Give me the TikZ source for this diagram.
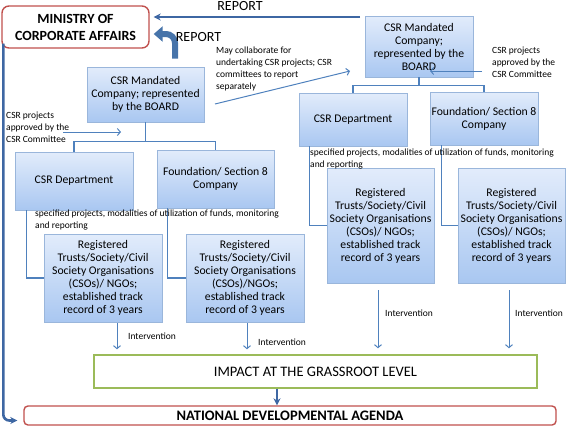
\documentclass[tikz,border=0pt]{standalone}
\usepackage{fontspec}
\setmainfont{Carlito}
\usepackage{xcolor}
\usepackage{tikz}
\usetikzlibrary{calc, arrows.meta, positioning}

\definecolor{linkblue}{HTML}{4F81BD}
\definecolor{darkblue}{HTML}{3E67A3}
\definecolor{boxtop}{HTML}{E2ECFB}
\definecolor{boxbot}{HTML}{A9C7F1}
\definecolor{boxline}{HTML}{9AB6DB}
\definecolor{agendared}{HTML}{C0504D}
\definecolor{impactgreen}{HTML}{9BBB59}

\tikzset{
    orgbox/.style={draw=boxline, line width=0.8pt, top color=boxtop, bottom color=boxbot,
        align=center, inner sep=0pt, font=\fontsize{11.7}{13}\selectfont},
    ngobox/.style={orgbox, minimum width=118pt, minimum height=88pt},
    note/.style={align=left, anchor=north west, inner sep=0pt, font=\fontsize{9.5}{12}\selectfont},
    conn/.style={draw=linkblue, line width=1.4pt},
    flow/.style={draw=linkblue, line width=1pt, -{Straight Barb[length=3pt,width=7pt]}},
    bigarr/.style={draw=darkblue, line width=2.6pt, -{Stealth[length=7pt,width=7pt]}},
    blockarr/.style={draw=linkblue!90!black, line width=6pt, -{Triangle[length=9pt,width=15pt]}}
}

\begin{document}
\begin{tikzpicture}[x=1pt, y=-1pt]
    % Khung hình theo kích thước ảnh gốc
    \useasboundingbox (0,0) rectangle (567,426);

    % Bộ và chương trình quốc gia
    \node[draw=agendared, line width=1.4pt, rounded corners=7pt, minimum width=147pt, minimum height=42pt,
        align=center, inner sep=0pt, font=\fontsize{14}{17}\selectfont\bfseries]
        (ministry) at (75.5,27) {MINISTRY OF\\CORPORATE AFFAIRS};
    \node[draw=agendared, line width=1.4pt, rounded corners=4pt, minimum width=532pt, minimum height=19pt,
        inner sep=0pt, font=\fontsize{14.5}{17}\selectfont\bfseries]
        (national) at (290,415.5) {NATIONAL DEVELOPMENTAL AGENDA};
    \node[draw=impactgreen, line width=1.4pt, minimum width=443pt, minimum height=33pt,
        inner sep=0pt, font=\fontsize{14.5}{17}\selectfont]
        (impact) at (315.5,371.5) {IMPACT AT THE GRASSROOT LEVEL};

    % Nhánh bên trái
    \node[orgbox, minimum width=117pt, minimum height=55pt] (lmand) at (145.5,94.5)
        {CSR Mandated\\Company; represented\\by the BOARD};
    \node[orgbox, minimum width=118pt, minimum height=58pt] (ldept) at (74,181) {CSR Department};
    \node[orgbox, minimum width=117pt, minimum height=58pt] (lfound) at (215.5,179)
        {Foundation/ Section 8\\Company};
    \node[ngobox] (lreg1) at (103,278)
        {Registered\\Trusts/Society/Civil\\Society Organisations\\(CSOs)/ NGOs;\\established track\\record of 3 years};
    \node[ngobox] (lreg2) at (245,278)
        {Registered\\Trusts/Society/Civil\\Society Organisations\\(CSOs)/NGOs;\\established track\\record of 3 years};

    % Nhánh bên phải
    \node[orgbox, minimum width=108pt, minimum height=61pt] (rmand) at (419,46.5)
        {CSR Mandated\\Company;\\represented by the\\BOARD};
    \node[orgbox, minimum width=108pt, minimum height=53pt] (rdept) at (353,119.5) {CSR Department};
    \node[orgbox, minimum width=108pt, minimum height=53pt] (rfound) at (484,118.5)
        {Foundation/ Section 8\\Company};
    \node[ngobox, minimum width=107pt, minimum height=115pt] (rreg1) at (380.5,225.5)
        {Registered\\Trusts/Society/Civil\\Society Organisations\\(CSOs)/ NGOs;\\established track\\record of 3 years};
    \node[ngobox, minimum width=107pt, minimum height=115pt] (rreg2) at (511.5,225.5)
        {Registered\\Trusts/Society/Civil\\Society Organisations\\(CSOs)/ NGOs;\\established track\\record of 3 years};

    % Đường nối dạng cây
    \draw[conn] (lmand.south) -- ++(0,19) -| (ldept.north);
    \draw[conn] (lmand.south) -- ++(0,19) -| (lfound.north);
    \draw[conn] (rmand.south) -- ++(0,8) -| (rdept.north);
    \draw[conn] (rmand.south) -- ++(0,8) -| (rfound.north);
    \draw[conn] ([xshift=12pt]ldept.south west) |- (lreg1.west);
    \draw[conn] ([xshift=11pt]lfound.south west) |- (lreg2.west);
    \draw[conn] ([xshift=11pt]rdept.south west) |- (rreg1.west);
    \draw[conn] ([xshift=12pt]rfound.south west) |- (rreg2.west);

    % Ghi chú
    \node[note] (lspec) at (35,210) {specified projects, modalities of utilization of funds, monitoring\\and reporting};
    \node[note] (rspec) at (310,149) {specified projects, modalities of utilization of funds, monitoring\\and reporting};
    \node[note] (lcomm) at (6,112) {CSR projects\\approved by the\\CSR Committee};
    \node[note] (rcomm) at (492,47) {CSR projects\\approved by the\\CSR Committee};
    \node[note] (collab) at (216,47) {May collaborate for\\undertaking CSR projects; CSR\\committees to report\\separately};

    % Mũi tên của ghi chú
    \coordinate (lcommend) at (121,132);
    \coordinate (rcommend) at (430,71);
    \coordinate (collabstart) at (215,104);
    \coordinate (collabend) at (350,71);
    \draw[flow] (lcomm.east |- lcommend) ++(-6,0) -- (lcommend);
    \draw[flow] ([xshift=-10pt]rcomm.west |- rcommend) -- (rcommend);
    \draw[flow] (collabstart) -- (collabend);

    % Báo cáo lên Bộ
    \coordinate (rtop) at (360,17);
    \draw[bigarr] (rtop) -- ($(ministry.east |- rtop)+(4,0)$);
    \node[font=\fontsize{14}{17}\selectfont, inner sep=0pt] (report1) at (240,6) {REPORT};
    \draw[blockarr, rounded corners=9pt] ($(lmand.north)+(29.5,-8)$) |- ($(ministry.east)+(4,7)$);
    \node[font=\fontsize{14}{17}\selectfont, inner sep=0pt] (report2) at (198.5,37) {REPORT};

    % Can thiệp đến cấp cơ sở
    \draw[flow, shorten <=1pt, shorten >=5pt] ($(lreg1.south)+(14,0)$) -- ($(lreg1.south |- impact.north)+(14,0)$);
    \draw[flow, shorten <=1pt, shorten >=5pt] ($(lreg2.south)+(2,0)$) -- ($(lreg2.south |- impact.north)+(2,0)$);
    \draw[flow, shorten <=7pt, shorten >=6pt] ($(rreg1.south)+(-2.5,0)$) -- ($(rreg1.south |- impact.north)+(-2.5,0)$);
    \draw[flow, shorten <=7pt, shorten >=6pt] ($(rreg2.south)+(-2.5,0)$) -- ($(rreg2.south |- impact.north)+(-2.5,0)$);
    \node[note, anchor=west] (int1) at (128,336) {Intervention};
    \node[note, anchor=west] (int2) at (258,342) {Intervention};
    \node[note, anchor=west] (int3) at (385,313) {Intervention};
    \node[note, anchor=west] (int4) at (515,313) {Intervention};

    % Tác động lên chương trình quốc gia
    \draw[bigarr] ($(impact.south)+(-38.5,0)$) -- ($(national.north)+(-13,0)$);
    \draw[bigarr, rounded corners=6pt, shorten >=6pt] ($(ministry.south west)+(2,-5)$) |- ($(national.west)+(0,5)$);
\end{tikzpicture}
\end{document}
